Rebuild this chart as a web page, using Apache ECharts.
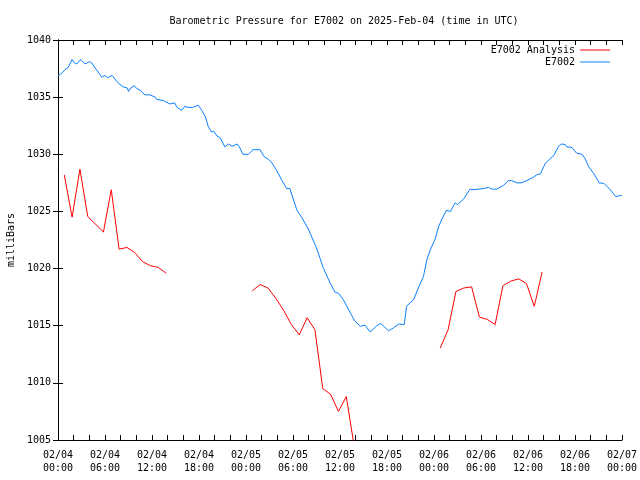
<!DOCTYPE html>
<html>
<head>
<meta charset="utf-8">
<script src="https://cdn.jsdelivr.net/npm/echarts@6/dist/echarts.min.js"></script>
<style>html,body{margin:0;padding:0;background:#fff}#c{width:640px;height:480px}</style>
</head>
<body>
<div id="c"></div>
<script>
// Hours since 2025-02-04 00:00 UTC
const xTickLabels = ['02/04\n00:00','02/04\n06:00','02/04\n12:00','02/04\n18:00','02/05\n00:00','02/05\n06:00','02/05\n12:00','02/05\n18:00','02/06\n00:00','02/06\n06:00','02/06\n12:00','02/06\n18:00','02/07\n00:00'];
const yTicks = [1005,1010,1015,1020,1025,1030,1035,1040];

// E7002 Analysis (null = gap)
const analysisTimes = [0.8,1.8,2.8,3.8,5.8,6.8,7.8,8.8,9.8,10.8,11.8,12.8,13.8, 19,
  24.8,25.8,26.8,27.8,28.8,29.8,30.8,31.8,32.8,33.8,34.8,35.8,36.8,37.8, 43,
  48.8,49.8,50.8,51.8,52.8,53.8,54.8,55.8,56.8,57.8,58.8,59.8,60.8,61.8];
const analysisValues = [1028.2,1024.5,1028.7,1024.55,1023.2,1026.9,1021.7,1021.85,1021.4,1020.6,1020.25,1020.1,1019.6, null,
  1018.05,1018.6,1018.3,1017.4,1016.35,1015.1,1014.2,1015.7,1014.65,1009.5,1009.0,1007.5,1008.8,1004.5, null,
  1013.05,1014.65,1018.0,1018.3,1018.4,1015.75,1015.55,1015.1,1018.5,1018.9,1019.1,1018.7,1016.7,1019.7];

// E7002 station
const stationTimes = [0,0.5,0.9,1.3,1.8,2.1,2.4,2.9,3.45,4.0,4.3,4.9,5.6,6.0,6.3,6.9,7.6,8.3,8.85,9.0,9.3,9.75,10.05,10.5,11.1,11.75,12.4,12.6,13.45,14.3,14.9,15.2,15.8,16.2,16.6,17.2,17.9,18.35,18.8,19.2,19.6,19.9,20.3,20.7,21.3,21.75,22.2,22.4,22.9,23.15,23.6,24.3,24.9,25.8,26.3,26.9,27.3,27.9,28.6,29.2,29.6,30.5,31.1,32.0,33.0,33.9,34.7,35.4,35.8,36.4,37.1,37.9,38.6,39.2,39.85,40.7,41.2,42.2,42.8,43.5,44.2,44.5,45.4,46.0,46.65,47.1,47.5,48.15,48.6,49.2,49.6,50.1,50.7,51.0,51.8,52.6,53.0,53.7,54.3,54.95,55.4,56.0,56.9,57.5,57.9,58.6,59.2,59.85,60.7,61.1,61.6,62.2,62.8,63.3,63.9,64.3,64.75,64.95,65.6,66.2,66.9,67.3,67.75,68.4,69.1,69.7,70.5,71.2,71.8,72.0];
const stationValues = [1036.85,1037.1,1037.4,1037.6,1038.3,1038.0,1037.9,1038.3,1037.9,1038.1,1038.0,1037.4,1036.75,1036.9,1036.7,1036.9,1036.3,1035.9,1035.8,1035.5,1035.8,1036.0,1035.75,1035.6,1035.2,1035.2,1035.0,1034.8,1034.7,1034.4,1034.5,1034.1,1033.85,1034.2,1034.1,1034.1,1034.3,1033.85,1033.3,1032.4,1031.95,1032.0,1031.6,1031.45,1030.65,1030.9,1030.7,1030.6,1030.9,1030.65,1030.0,1030.0,1030.4,1030.4,1029.8,1029.55,1029.25,1028.6,1027.7,1027.0,1027.0,1025.1,1024.5,1023.4,1021.8,1020.0,1018.8,1017.9,1017.85,1017.3,1016.4,1015.4,1014.95,1015.05,1014.45,1015.0,1015.2,1014.55,1014.8,1015.15,1015.1,1016.7,1017.3,1018.3,1019.3,1020.8,1021.6,1022.6,1023.7,1024.6,1025.1,1025.0,1025.75,1025.6,1026.1,1026.95,1026.9,1026.95,1027.0,1027.1,1026.95,1026.95,1027.3,1027.7,1027.7,1027.5,1027.5,1027.7,1028.0,1028.2,1028.3,1029.2,1029.6,1029.9,1030.7,1030.9,1030.85,1030.65,1030.6,1030.1,1030.0,1029.6,1028.9,1028.3,1027.5,1027.45,1026.9,1026.3,1026.4,1026.4];

const FONT = 'DejaVu Sans Mono';
const chart = echarts.init(document.getElementById('c'), null, {renderer: 'canvas'});
const zip = (a, b) => a.map((t, i) => [t, b[i]]);
const axisBase = {
  axisLine: {show: true, lineStyle: {color: '#000', width: 1}},
  splitLine: {show: false}
};
chart.setOption({
  animation: false,
  backgroundColor: '#fff',
  title: {
    text: 'Barometric Pressure for E7002 on 2025-Feb-04 (time in UTC)',
    left: 339, top: 11, textAlign: 'center',
    textStyle: {fontFamily: FONT, fontSize: 10, fontWeight: 'normal', color: '#000'}
  },
  legend: [
    {data: ['E7002 Analysis'], right: 30, top: 45, orient: 'vertical', align: 'right', padding: 0,
     icon: 'rect', itemWidth: 30, itemHeight: 1,
     textStyle: {fontFamily: FONT, fontSize: 10, color: '#000'}},
    {data: ['E7002'], right: 30, top: 57, orient: 'vertical', align: 'right', padding: 0,
     icon: 'rect', itemWidth: 30, itemHeight: 1,
     textStyle: {fontFamily: FONT, fontSize: 10, color: '#000'}}
  ],
  grid: {left: 58, right: 18, top: 40, bottom: 40, containLabel: false, outerBoundsMode: 'none'},
  xAxis: [
    Object.assign({}, axisBase, {
      type: 'value', min: 0, max: 72, interval: 6, position: 'bottom',
      axisTick: {show: true, inside: true, length: 5, lineStyle: {color: '#000'}},
      minorTick: {show: true, splitNumber: 3, length: 5, lineStyle: {color: '#000'}},
      axisLabel: {
        fontFamily: FONT, fontSize: 10, color: '#000', margin: 9, lineHeight: 13,
        formatter: v => xTickLabels[Math.round(v / 6)]
      }
    }),
    Object.assign({}, axisBase, {
      type: 'value', min: 0, max: 72, interval: 6, position: 'top',
      axisTick: {show: true, inside: true, length: 5, lineStyle: {color: '#000'}},
      minorTick: {show: true, splitNumber: 3, length: 5, lineStyle: {color: '#000'}},
      axisLabel: {show: false}
    })
  ],
  yAxis: [
    Object.assign({}, axisBase, {
      type: 'value', min: yTicks[0], max: yTicks[yTicks.length - 1], interval: 5, position: 'left',
      name: 'milliBars', nameLocation: 'middle', nameRotate: 90, nameGap: 42,
      nameTextStyle: {fontFamily: FONT, fontSize: 10, color: '#000'},
      axisTick: {show: true, inside: true, length: 5, lineStyle: {color: '#000'}},
      axisLabel: {fontFamily: FONT, fontSize: 10, color: '#000', margin: 7, formatter: v => String(v)}
    }),
    Object.assign({}, axisBase, {
      type: 'value', min: yTicks[0], max: yTicks[yTicks.length - 1], interval: 5, position: 'right',
      axisTick: {show: true, inside: true, length: 5, lineStyle: {color: '#000'}},
      axisLabel: {show: false}
    })
  ],
  series: [
    {name: 'E7002 Analysis', type: 'line', data: zip(analysisTimes, analysisValues),
     showSymbol: false, symbol: 'none', connectNulls: false, clip: true,
     color: '#ff0000', lineStyle: {color: '#ff0000', width: 1}},
    {name: 'E7002', type: 'line', data: zip(stationTimes, stationValues),
     showSymbol: false, symbol: 'none', clip: true,
     color: '#0a80ff', lineStyle: {color: '#0a80ff', width: 1}}
  ]
});
</script>
</body>
</html>
